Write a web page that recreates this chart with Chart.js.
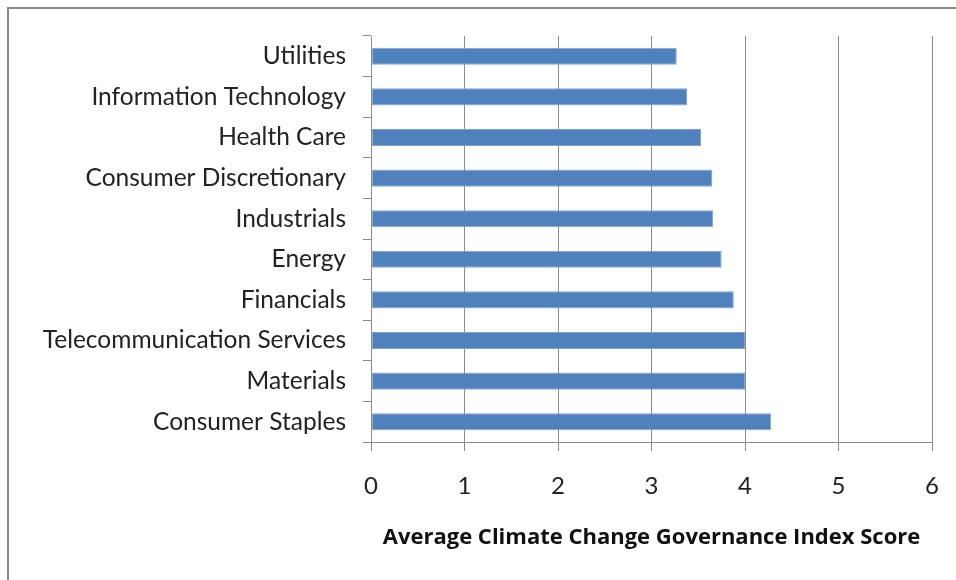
<!DOCTYPE html>
<html lang="en">

<head>
    <meta charset="UTF-8">
    <title>Average Climate Change Governance Index Score</title>
    <script src="https://cdn.jsdelivr.net/npm/chart.js@4.4.1/dist/chart.umd.min.js"></script>
    <style>
        body { margin: 0; background: #fff; }
        #wrap { position: relative; width: 956px; height: 580px; }
        #frame {
            position: absolute; left: 7px; top: 7px; right: -10px; bottom: -10px;
            border-left: 2px solid #8a8a8a; border-top: 2px solid #8a8a8a;
            pointer-events: none;
        }
    </style>
</head>

<body>
    <div id="wrap">
        <canvas id="chart" width="956" height="580"></canvas>
        <div id="frame"></div>
    </div>

    <script>
        // sectors, top to bottom as in the picture
        const sectors = [
            'Utilities',
            'Information Technology',
            'Health Care',
            'Consumer Discretionary',
            'Industrials',
            'Energy',
            'Financials',
            'Telecommunication Services',
            'Materials',
            'Consumer Staples'
        ];
        const scores = [3.27, 3.38, 3.53, 3.65, 3.66, 3.75, 3.88, 4.00, 4.00, 4.28];
        const xTicks = [0, 1, 2, 3, 4, 5, 6];
        const xTitle = 'Average Climate Change Governance Index Score';

        const gridGray = '#8c8c8c';
        const fontFam = 'Lato, "Open Sans", sans-serif';

        const ctx = document.getElementById('chart').getContext('2d');
        const chart = new Chart(ctx, {
            type: 'bar',
            data: {
                labels: sectors,
                datasets: [{
                    data: scores,
                    backgroundColor: '#4f81bd',
                    borderColor: '#7fa3d1',
                    borderWidth: 1,
                    borderSkipped: false,
                    categoryPercentage: 1,
                    barPercentage: 0.42
                }]
            },
            options: {
                indexAxis: 'y',
                responsive: false,
                animation: false,
                layout: { padding: { top: 36, right: 24, left: 0, bottom: 0 } },
                plugins: { legend: { display: false }, tooltip: { enabled: false } },
                scales: {
                    x: {
                        min: 0,
                        max: 6,
                        afterBuildTicks: function (scale) {
                            scale.ticks = xTicks.map(v => ({ value: v }));
                        },
                        afterFit: function (scale) {
                            scale.height = 138;
                            // keep the plot edge fixed, label overhang fits in the margin
                            scale.paddingLeft = 0;
                            scale.paddingRight = 0;
                        },
                        border: { color: gridGray, width: 1 },
                        grid: { color: gridGray, lineWidth: 1, tickLength: 9 },
                        ticks: {
                            color: '#222',
                            padding: 21,
                            font: { family: fontFam, size: 24 }
                        },
                        title: {
                            display: true,
                            text: xTitle,
                            color: '#111',
                            padding: { top: 0, bottom: 29 },
                            font: { family: '"Open Sans", Lato, sans-serif', size: 22, weight: 'bold' }
                        }
                    },
                    y: {
                        afterFit: function (scale) {
                            scale.width = 371;
                            scale.paddingTop = 0;
                            scale.paddingBottom = 0;
                        },
                        border: { color: gridGray, width: 1 },
                        grid: {
                            offset: true,
                            drawOnChartArea: false,
                            color: gridGray,
                            tickLength: 8
                        },
                        ticks: {
                            color: '#222',
                            padding: 17,
                            font: { family: fontFam, size: 24.5 }
                        }
                    }
                }
            }
        });
    </script>
</body>

</html>
